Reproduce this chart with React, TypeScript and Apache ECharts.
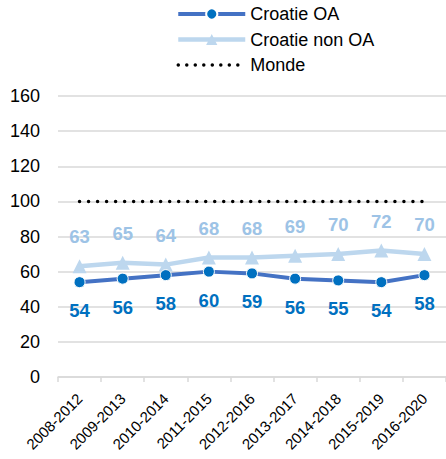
import React, { useEffect, useRef } from "react";
import * as echarts from "echarts";

const categories = ["2008-2012", "2009-2013", "2010-2014", "2011-2015", "2012-2016", "2013-2017", "2014-2018", "2015-2019", "2016-2020"];
const croatieOA = [54, 56, 58, 60, 59, 56, 55, 54, 58];
const croatieNonOA = [63, 65, 64, 68, 68, 69, 70, 72, 70];
const monde = [100, 100, 100, 100, 100, 100, 100, 100, 100];
const yTicks = { min: 0, max: 160, interval: 20 };

const FONT = "'Liberation Sans', Arial, sans-serif";

export default function App() {
  const ref = useRef<HTMLDivElement>(null);
  useEffect(() => {
    if (!ref.current) return;
    const chart = echarts.init(ref.current, null, { renderer: "svg" });
    chart.setOption({
      animation: false,
      backgroundColor: "#ffffff",
      textStyle: { fontFamily: FONT },
      legend: {
        orient: "vertical",
        left: 176,
        top: 5,
        padding: 0,
        itemWidth: 67,
        itemHeight: 14,
        itemGap: 7.5,
        textStyle: { fontSize: 18, color: "#000", lineHeight: 18, fontFamily: FONT },
        data: [
          { name: "Croatie OA", lineStyle: { width: 4 } },
          { name: "Croatie non OA", lineStyle: { width: 4.5 } },
          { name: "Monde", itemStyle: { opacity: 0 }, lineStyle: { width: 3.5, type: [0.01, 8.5], cap: "round" } },
        ],
      },
      grid: { left: 58, top: 96, bottom: 82, width: 389 },
      xAxis: {
        type: "category",
        data: categories,
        boundaryGap: true,
        axisLine: { lineStyle: { color: "#D9D9D9", width: 1.5 } },
        axisTick: { show: true, length: 5, lineStyle: { color: "#D9D9D9", width: 1.5 } },
        axisLabel: { rotate: 45, fontSize: 15, color: "#000", margin: 19, interval: 0, fontFamily: FONT },
      },
      yAxis: {
        type: "value",
        min: yTicks.min,
        max: yTicks.max,
        interval: yTicks.interval,
        axisLine: { show: false },
        axisTick: { show: false },
        splitLine: { lineStyle: { color: "#D9D9D9", width: 1.5 } },
        axisLabel: { fontSize: 18, color: "#000", margin: 18, fontFamily: FONT },
      },
      series: [
        {
          name: "Croatie OA",
          type: "line",
          data: croatieOA,
          z: 4,
          symbol: "circle",
          symbolSize: 11,
          lineStyle: { color: "#4472C4", width: 4 },
          itemStyle: { color: "#0070C0", borderColor: "#ffffff", borderWidth: 1 },
          label: {
            show: true,
            position: "bottom",
            distance: 13,
            fontSize: 18.5,
            fontWeight: "bold",
            color: "#0070C0",
            fontFamily: FONT,
          },
        },
        {
          name: "Croatie non OA",
          type: "line",
          data: croatieNonOA,
          z: 3,
          symbol: "triangle",
          symbolSize: 14,
          lineStyle: { color: "#BDD7EE", width: 4.5 },
          itemStyle: { color: "#BDD7EE" },
          label: {
            show: true,
            position: "top",
            distance: 13,
            fontSize: 18.5,
            fontWeight: "bold",
            color: "#9DC3E6",
            fontFamily: FONT,
          },
        },
        {
          name: "Monde",
          type: "line",
          data: monde,
          z: 2,
          symbol: "none",
          lineStyle: { color: "#000000", width: 3.5, type: [0.01, 9], cap: "round" },
          itemStyle: { color: "#000000" },
        },
      ],
    });
    return () => chart.dispose();
  }, []);
  return <div ref={ref} style={{ width: 446, height: 459, position: "absolute", left: 0, top: 0 }} />;
}
